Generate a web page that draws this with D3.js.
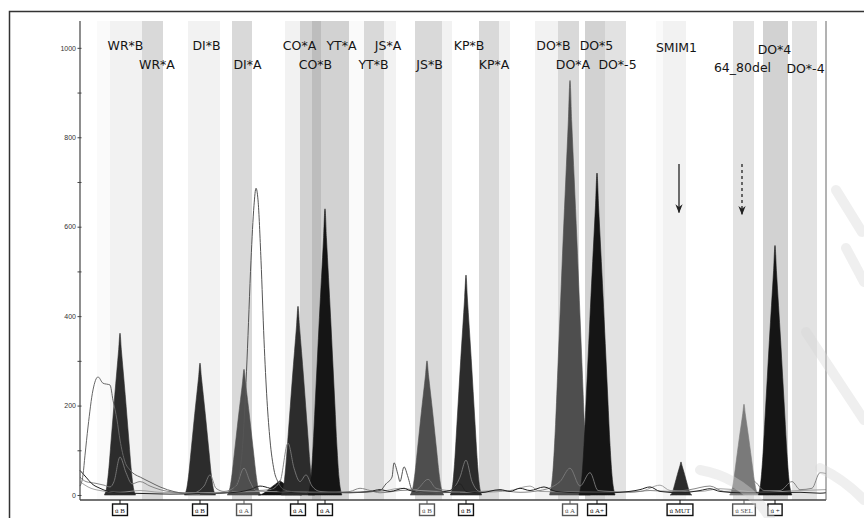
<!DOCTYPE html>
<html><head><meta charset="utf-8">
<script src="https://cdn.jsdelivr.net/npm/d3@7"></script>
<style>
html,body{margin:0;padding:0;background:#fff;}
svg{display:block;}
</style></head>
<body>
<svg id="chart" width="864" height="518"></svg>
<script>
// ---------------- DATA ----------------
// Shaded bin bands (x in arbitrary size units), shade category
const bandStart = [8.5, 15, 31, 54, 76, 102.5, 110, 116, 120.5, 134.5, 142, 152, 167.5, 181, 199.5, 209.5, 227.5, 239, 252.5, 262.5, 288, 291.5, 326.5, 341.5, 356];
const bandEnd   = [15, 31, 41.5, 70, 86, 110, 116, 120.5, 134.5, 142, 152, 158, 181, 186, 209.5, 215, 239, 249.5, 262.5, 273, 291.5, 303, 337, 354, 368.5];
const bandShade = ["xfaint","faint","mid","faint","mid","faint","mid2","dark","mid2","xfaint","mid","faint","mid","faint","mid","faint","faint","mid","mid2","light","xfaint","faint","light","mid2","light"];

// Allele labels
const labelText = ["WR*B","WR*A","DI*B","DI*A","CO*A","CO*B","YT*A","YT*B","JS*A","JS*B","KP*B","KP*A","DO*B","DO*A","DO*5","DO*-5","SMIM1","DO*4","64_80del","DO*-4"];
const labelX    = [22.75, 38.5, 63.25, 83.75, 109.75, 117.75, 130.75, 146.75, 154, 174.75, 194.5, 207, 236.75, 246.5, 258.25, 268.75, 298.25, 347.25, 331.25, 362.75];
const labelRow  = [0, 1, 0, 1, 0, 1, 0, 1, 0, 1, 0, 1, 0, 1, 0, 1, 0.1, 0.2, 1.15, 1.2];

// Filled peaks
const peakPos    = [20, 60, 82, 100, 109, 122.5, 173.5, 193, 245, 258.5, 300.5, 332, 347.5];
const peakHeight = [362, 295, 281, 32, 422, 640, 300, 492, 927, 720, 74, 203, 558];
const peakWidth  = [6.5, 6.5, 7, 9, 7, 7, 7, 6.5, 8.5, 7.5, 4.5, 6, 7];
const peakDye    = ["dark","dark","gray","black","dark","black","gray","dark","gray","black","dark","light","black"];
// normalized peak profile read from the WR*B peak (offset / half-base, fraction of height)
const profileOffset = [0, 0.1, 0.25, 0.4, 0.55, 0.7, 0.85, 1, 1.2];
const profileFrac   = [1, 0.9, 0.76, 0.62, 0.47, 0.32, 0.17, 0.06, 0];

// Marker boxes under the axis
const boxPos  = [20, 60, 82, 109, 122.5, 173.5, 193, 245, 258.5, 300, 332, 347.5];
const boxText = ["ú B","ú B","ú A","ú A","ú A","ú B","ú B","ú A","ú A+","ú MUT","ú SEL","ú +"];
const boxDye  = ["black","black","gray","black","black","gray","black","gray","black","black","gray","black"];

// Outline traces (x unit, signal)
const traceBroad = [[0,20],[1.5,45],[2.5,89],[4,152],[6.5,235],[9,264],[11.5,250],[15,246],[16.5,212],[18.5,168],[20,123],[22.5,74],[25,56],[31,38],[35,29],[40,18],[47.5,7],[55,2],[60,1]];
const traceTall = [[60,2],[70,4],[75,7],[79,34],[81.5,123],[83.5,302],[85.5,525],[87,648],[88,686],[89,660],[90.5,525],[92,347],[93.5,212],[95,123],[97,56],[99,29],[102.5,11],[107.5,7],[120,5],[140,6],[150,10],[153,25],[156,40],[157,72],[159,45],[160,30],[162,63],[164,40],[166,12],[172,5],[190,6]];
const traceBlack = [[0,55],[3,40],[6,25],[10,15],[14,8],[18,5],[25,4],[35,3],[45,2],[60,3],[75,5],[85,12],[90,20],[95,15],[100,8],[110,5],[125,6],[135,5],[145,8],[150,12],[155,8],[162,15],[165,10],[175,5],[185,10],[190,25],[193,8],[200,5],[210,12],[215,8],[220,15],[225,10],[232,18],[238,8],[250,5],[265,5],[270,6],[280,12],[285,18],[290,8],[300,5],[310,10],[315,14],[320,8],[330,5],[345,5],[360,6],[370,4],[373,5]];
const traceGray = [[0,40],[3,30],[8,26],[12,22],[15,18],[17,30],[20,85],[23,50],[26,25],[30,30],[35,20],[40,12],[48,6],[56,4],[62,20],[65,45],[68,15],[72,8],[78,20],[82,60],[85,30],[88,10],[95,12],[100,30],[104,116],[107,60],[110,30],[113,45],[116,20],[120,8],[128,6],[135,8],[140,15],[145,10],[150,5],[160,10],[168,12],[174,35],[178,15],[185,10],[190,40],[193,78],[196,30],[200,8],[210,10],[220,6],[230,10],[240,30],[245,60],[250,20],[255,50],[259,10],[265,8],[275,6],[285,10],[295,8],[305,12],[315,20],[322,8],[330,12],[337,30],[342,10],[350,10],[356,30],[360,12],[366,15],[370,50],[373,48]];
const traceLight = [[0,30],[4,18],[10,10],[20,6],[30,10],[40,6],[60,5],[90,8],[120,6],[150,8],[160,15],[170,10],[200,6],[215,10],[225,20],[230,8],[260,6],[280,8],[290,22],[295,10],[310,8],[320,14],[340,6],[360,10],[373,12]];

// Y axis ticks
const yTicks = [0,100,200,300,400,500,600,700,800,900,1000];
const yLabelTicks = [0,200,400,600,800,1000];

// Arrows (x unit, from/to signal)
const arrowX = [299.5, 331];
const arrowFrom = [740, 740];
const arrowTo = [632, 628];
const arrowDashed = [false, true];

// ---------------- DRAW ----------------
const svg = d3.select("#chart");
const x = d3.scaleLinear().domain([0, 373]).range([80, 826]);
const y = d3.scaleLinear().domain([0, 1060]).range([495, 21]);
const plotTop = 21, axisY = 500;

const shadeColor = {xfaint:"#fafafa", faint:"#f2f2f2", light:"#e2e2e2", mid:"#d9d9d9", mid2:"#d2d2d2", dark:"#bdbdbd"};
const dyeColor = {black:"#151515", dark:"#2c2c2c", gray:"#4e4e4e", light:"#7a7a7a"};

svg.append("rect").attr("width",864).attr("height",518).attr("fill","#fff");

// bands
svg.append("g").selectAll("rect").data(bandStart).join("rect")
  .attr("x",(d)=>x(d)).attr("y",plotTop)
  .attr("width",(d,i)=>x(bandEnd[i])-x(d)).attr("height",axisY-plotTop)
  .attr("fill",(d,i)=>shadeColor[bandShade[i]]);

// labels
svg.append("g").selectAll("text").data(labelText).join("text")
  .attr("x",(d,i)=>x(labelX[i])).attr("y",(d,i)=>50+labelRow[i]*19)
  .attr("text-anchor","middle")
  .style("font-family","'DejaVu Sans', Verdana, sans-serif").style("font-size","12.5px").attr("fill","#151515")
  .text(d=>d);

// filled peaks
const area = d3.area().x(d=>x(d[0])).y0(y(0)).y1(d=>y(d[1])).curve(d3.curveMonotoneX);
const peaksG = svg.append("g");
peakPos.forEach((c,i)=>{
  const pts = [];
  for (let k=profileOffset.length-1;k>0;k--) pts.push([c-profileOffset[k]*peakWidth[i], profileFrac[k]*peakHeight[i]]);
  for (let k=0;k<profileOffset.length;k++) pts.push([c+profileOffset[k]*peakWidth[i], profileFrac[k]*peakHeight[i]]);
  peaksG.append("path").datum(pts).attr("d",area).attr("fill",dyeColor[peakDye[i]]).attr("stroke",dyeColor[peakDye[i]]).attr("stroke-width",0.6);
});

// outline traces
const line = d3.line().x(d=>x(d[0])).y(d=>y(d[1])).curve(d3.curveMonotoneX);
const tr = svg.append("g").attr("fill","none");
tr.append("path").datum(traceLight).attr("d",line).attr("stroke","#9a9a9a").attr("stroke-width",0.9);
tr.append("path").datum(traceGray).attr("d",line).attr("stroke","#7a7a7a").attr("stroke-width",0.9);
tr.append("path").datum(traceBlack).attr("d",line).attr("stroke","#222").attr("stroke-width",1);
tr.append("path").datum(traceBroad).attr("d",line).attr("stroke","#666").attr("stroke-width",1);
tr.append("path").datum(traceTall).attr("d",line).attr("stroke","#555").attr("stroke-width",1);

// arrows
const defs = svg.append("defs");
defs.append("marker").attr("id","ah").attr("viewBox","0 0 10 10").attr("refX",9).attr("refY",5)
  .attr("markerWidth",7).attr("markerHeight",7).attr("orient","auto")
  .append("path").attr("d","M0,1 L10,5 L0,9 L3,5 Z").attr("fill","#222");
svg.append("g").selectAll("line").data(arrowX).join("line")
  .attr("x1",d=>x(d)).attr("x2",d=>x(d))
  .attr("y1",(d,i)=>y(arrowFrom[i])).attr("y2",(d,i)=>y(arrowTo[i]))
  .attr("stroke","#222").attr("stroke-width",1.3)
  .attr("stroke-dasharray",(d,i)=>arrowDashed[i]?"3,3":null)
  .attr("marker-end","url(#ah)");

// y axis
const yAxis = d3.axisLeft(y).tickValues(yTicks).tickSize(3)
  .tickFormat(d=>yLabelTicks.includes(d)?d:"");
const yg = svg.append("g").attr("transform","translate(80,0)").call(yAxis);
yg.select(".domain").remove();
yg.selectAll(".tick line").attr("stroke","#444").attr("x2",-2.5).attr("x1",1.5);
yg.selectAll(".tick text").attr("x",-4).style("font-family","'Liberation Sans Narrow','Liberation Sans',sans-serif")
  .style("font-size","7px").style("fill","#333");
svg.append("line").attr("x1",80).attr("x2",80).attr("y1",plotTop).attr("y2",axisY).attr("stroke","#444").attr("stroke-width",1.2);
// x axis line and right border
svg.append("line").attr("x1",80).attr("x2",826).attr("y1",axisY).attr("y2",axisY).attr("stroke","#444").attr("stroke-width",1.3);
svg.append("line").attr("x1",826).attr("x2",826).attr("y1",plotTop).attr("y2",axisY).attr("stroke","#666").attr("stroke-width",1);

// marker boxes
const bg = svg.append("g");
boxPos.forEach((p,i)=>{
  const cx = x(p);
  const col = boxDye[i]==="gray" ? "#555" : "#111";
  bg.append("line").attr("x1",cx).attr("x2",cx).attr("y1",axisY).attr("y2",504).attr("stroke",col).attr("stroke-width",1);
  const t = bg.append("text").attr("x",cx).attr("y",513.3).attr("text-anchor","middle")
    .style("font-family","'Liberation Serif',serif").style("font-size","7px").style("fill",col).text(boxText[i]);
  const w = t.node().getComputedTextLength()+5;
  bg.insert("rect","text").attr("x",cx-w/2).attr("y",504).attr("width",w).attr("height",11.5)
    .attr("fill","#fff").attr("stroke",col).attr("stroke-width",1.4);
});

// outer frame
svg.append("path").attr("d","M9.5,518 L9.5,11.5 L864,11.5").attr("fill","none").attr("stroke","#333").attr("stroke-width",1.5);

// faint watermark strokes
const wm = svg.append("g").attr("fill","none").attr("stroke","#d8d8d8").attr("stroke-opacity",0.4).attr("stroke-linecap","round").attr("stroke-width",10);
wm.append("path").attr("d","M836,190 L862,232");
wm.append("path").attr("d","M846,248 L864,282");
wm.append("path").attr("d","M806,332 L864,420");
wm.append("path").attr("d","M700,470 Q745,478 770,518");
wm.append("path").attr("d","M820,468 Q845,480 864,500");
</script>
</body></html>
